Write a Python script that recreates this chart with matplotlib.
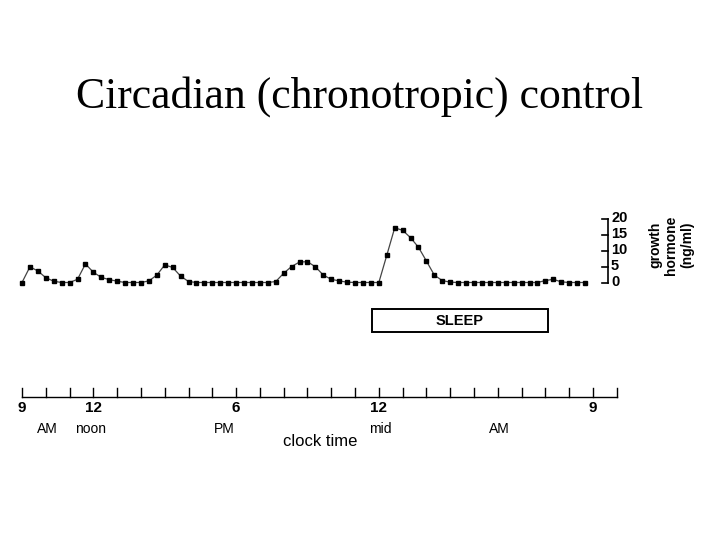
import matplotlib
matplotlib.use('Agg')
import matplotlib.pyplot as plt
import numpy as np
from matplotlib.patches import Rectangle

plt.rcParams['font.family'] = ['Liberation Sans', 'DejaVu Sans']

# growth hormone (ng/ml), one reading every 20 min starting 9 AM
gh = [0, 4.9, 3.6, 1.5, 0.4, 0, 0, 1.0, 5.8, 3.2,
      1.6, 0.9, 0.4, 0, 0, 0, 0.5, 2.3, 5.5, 4.7,
      2.0, 0.3, 0, 0, 0, 0, 0, 0, 0, 0,
      0, 0, 0.3, 2.9, 5.0, 6.4, 6.5, 4.9, 2.3, 1.0,
      0.5, 0.1, 0, 0, 0, 0, 8.5, 17.1, 16.3, 14.0,
      11.0, 6.7, 2.3, 0.6, 0.1, 0, 0, 0, 0, 0,
      0, 0, 0, 0, 0, 0, 0.6, 1.0, 0.2, 0,
      0, 0]
step_h = 1/3
hrs = np.arange(len(gh)) * step_h          # hours after 9 AM

gh_ticks = [0, 5, 10, 15, 20]
sleep = (14.7, 22.1)                        # hours after 9 AM
hour_ticks = np.arange(0, 26)
tick_lab = {0: '9', 3: '12', 9: '6', 15: '12', 24: '9'}
sub_lab = [(1.05, 'AM'), (2.9, 'noon'), (8.5, 'PM'), (15.05, 'mid'), (20.05, 'AM')]

# layout (pixels in a 720x540 figure)
X0, PXH = 22.0, 23.79     # x pixel of 9 AM, pixels per hour
Y0, PXU = 282.5, 3.2      # y pixel of 0 ng/ml, pixels per ng/ml
def hx(px): return (px - X0) / PXH
def vy(py): return (Y0 - py) / PXU

fig = plt.figure(figsize=(7.2, 5.4), dpi=100)
ax = fig.add_axes([0, 0, 1, 1])
ax.set_xlim(hx(0), hx(720))
ax.set_ylim(vy(540), vy(0))
ax.axis('off')

fig.text(0.5, 1 - 97/540, 'Circadian (chronotropic) control', family='Liberation Serif',
         fontsize=31.5, ha='center', va='center')

# hormone curve
ax.plot(hrs, gh, color='#444444', lw=0.9, marker='s', ms=2.2, mfc='black', mec='black')

# right hand scale
xr = hx(608)
ax.plot([xr, xr], [0, 20], color='black', lw=1.2)
for v in gh_ticks:
    ax.plot([xr - 6/PXH, xr], [v, v], color='black', lw=1.2)
    ax.text(hx(611), v, str(v), fontsize=10.5, fontweight='bold', ha='left', va='center')
for px, s in [(655, 'growth'), (671, 'hormone'), (687, '(ng/ml)')]:
    ax.text(hx(px), vy(245), s, rotation=90, fontsize=10, fontweight='bold',
            ha='center', va='center')

# sleep bar
rect = Rectangle((sleep[0], vy(332)), sleep[1] - sleep[0], vy(309) - vy(332),
                 fill=False, ec='black', lw=1.4)
ax.add_patch(rect)
ax.text((sleep[0] + sleep[1]) / 2, vy(321), 'SLEEP', fontsize=10.5, fontweight='bold',
        ha='center', va='center')

# clock time axis
ya = vy(397)
ax.plot([hour_ticks[0], hour_ticks[-1]], [ya, ya], color='black', lw=1.0)
for h in hour_ticks:
    ax.plot([h, h], [ya, vy(388)], color='black', lw=1.0)
for h, s in tick_lab.items():
    ax.text(h, vy(408), s, fontsize=11, fontweight='bold', ha='center', va='center')
for h, s in sub_lab:
    ax.text(h, vy(429), s, fontsize=10, ha='center', va='center')
ax.text(12.55, vy(442), 'clock time', fontsize=12, ha='center', va='center')

fig.savefig('out.png', dpi=100)
